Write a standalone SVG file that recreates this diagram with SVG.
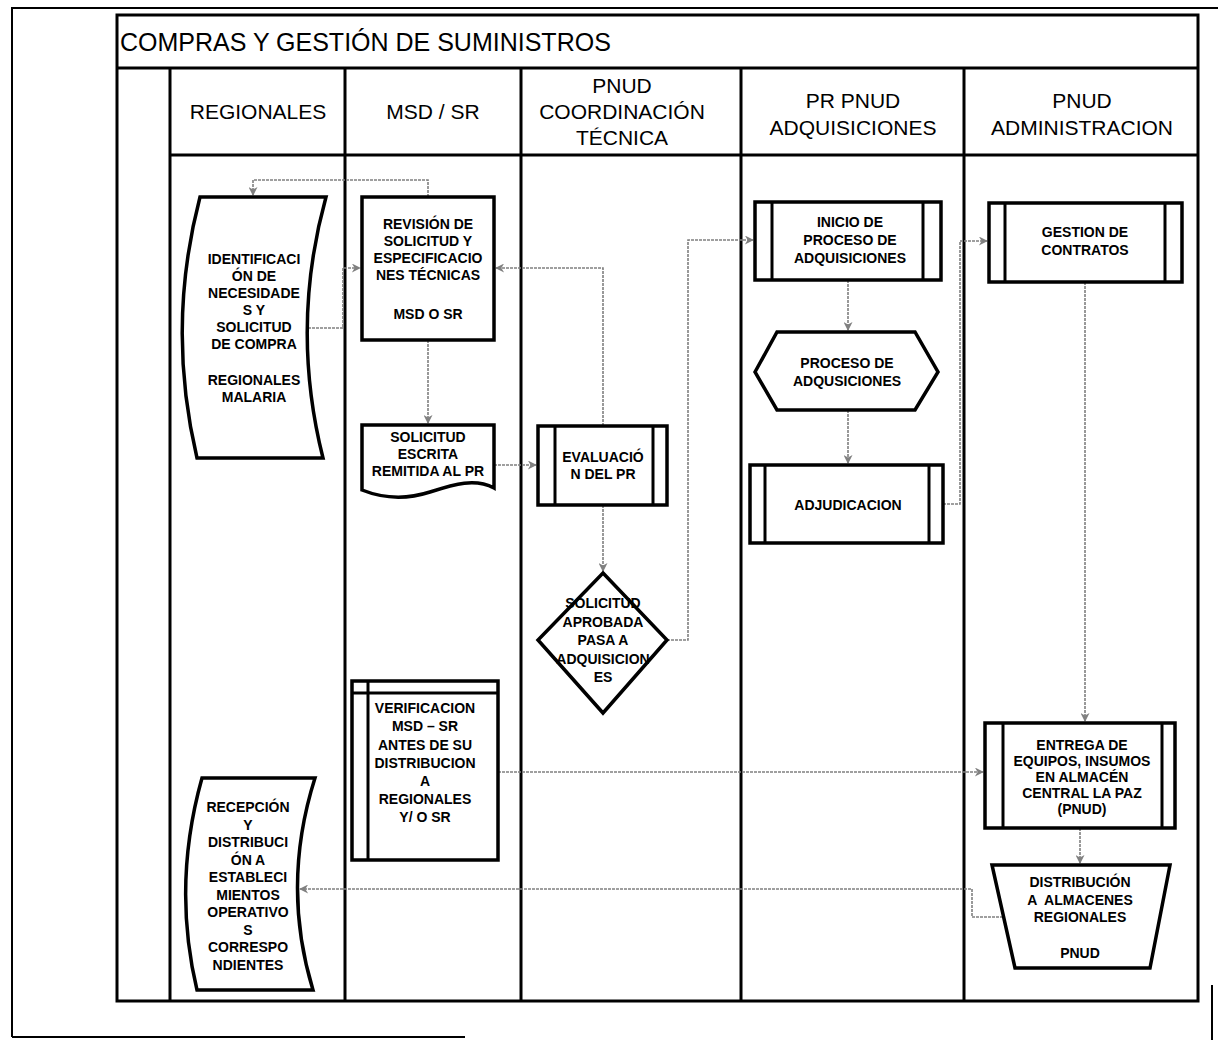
<svg xmlns="http://www.w3.org/2000/svg" width="1218" height="1040" viewBox="0 0 1218 1040">
<style>
.frame{fill:none;stroke:#000;stroke-width:3}
.thin{fill:none;stroke:#000;stroke-width:2}
.node{fill:#fff;stroke:#000;stroke-width:3.5;stroke-linejoin:miter}
.inner{stroke:#000;stroke-width:3;fill:none}
.t{font-family:"Liberation Sans",Arial,sans-serif;font-weight:bold;font-size:14px;text-anchor:middle;fill:#000}
.h{font-family:"Liberation Sans",Arial,sans-serif;font-size:21px;text-anchor:middle;fill:#000}
.title{font-family:"Liberation Sans",Arial,sans-serif;font-size:25px;fill:#000}
.c{fill:none;stroke:#808080;stroke-width:1.6;stroke-dasharray:3 1}
</style>
<defs>
<marker id="arr" viewBox="0 0 10 10" refX="9" refY="5" markerWidth="10" markerHeight="9" markerUnits="userSpaceOnUse" orient="auto">
<path d="M0,0 L10,5 L0,10 L3,5 Z" fill="#808080"/>
</marker>
</defs>
<rect width="1218" height="1040" fill="#fff"/>
<g id="outer-border">
<path class="thin" d="M12,1037 V8 H1218"/>
<path class="thin" d="M12,1037 H465"/>
<path class="thin" d="M1212,985 V1040"/>
</g>
<g id="lanes">
<rect class="frame" x="117" y="15" width="1081" height="986"/>
<line class="frame" x1="117" y1="68" x2="1198" y2="68"/>
<line class="frame" x1="170" y1="155" x2="1198" y2="155"/>
<line class="frame" x1="170" y1="68" x2="170" y2="1001"/>
<line class="frame" x1="345" y1="68" x2="345" y2="1001"/>
<line class="frame" x1="521" y1="68" x2="521" y2="1001"/>
<line class="frame" x1="741" y1="68" x2="741" y2="1001"/>
<line class="frame" x1="964" y1="68" x2="964" y2="1001"/>
<text class="title" x="120" y="51">COMPRAS Y GESTIÓN DE SUMINISTROS</text>
<text class="h" x="258" y="119">REGIONALES</text>
<text class="h" x="433" y="119">MSD / SR</text>
<text class="h" x="622" y="93">PNUD</text>
<text class="h" x="622" y="119">COORDINACIÓN</text>
<text class="h" x="622" y="145">TÉCNICA</text>
<text class="h" x="853" y="108">PR PNUD</text>
<text class="h" x="853" y="135">ADQUISICIONES</text>
<text class="h" x="1082" y="108">PNUD</text>
<text class="h" x="1082" y="135">ADMINISTRACION</text>
</g>
<g id="connectors">
<path class="c" d="M308,328 H343 V268 H360" marker-end="url(#arr)"/>
<path class="c" d="M428,197 V180 H253 V195" marker-end="url(#arr)"/>
<path class="c" d="M428,340 V423" marker-end="url(#arr)"/>
<path class="c" d="M494,465 H536" marker-end="url(#arr)"/>
<path class="c" d="M603,505 V571" marker-end="url(#arr)"/>
<path class="c" d="M603,426 V268 H496" marker-end="url(#arr)"/>
<path class="c" d="M667,640 H688 V240 H753" marker-end="url(#arr)"/>
<path class="c" d="M848,280 V330" marker-end="url(#arr)"/>
<path class="c" d="M848,410 V463" marker-end="url(#arr)"/>
<path class="c" d="M943,504 H960 V241 H987" marker-end="url(#arr)"/>
<path class="c" d="M498,772 H983" marker-end="url(#arr)"/>
<path class="c" d="M1085,282 V721" marker-end="url(#arr)"/>
<path class="c" d="M1080,828 V863" marker-end="url(#arr)"/>
<path class="c" d="M1003,917 H972 V889 H300" marker-end="url(#arr)"/>
</g>
<g id="n-identificacion">
<path class="node" d="M200,197 L326,197 Q290,327 323,458 L197,458 Q166,327 200,197 Z"/>
<text class="t" x="254" y="264">IDENTIFICACI</text>
<text class="t" x="254" y="281">ÓN DE</text>
<text class="t" x="254" y="298">NECESIDADE</text>
<text class="t" x="254" y="315">S Y</text>
<text class="t" x="254" y="332">SOLICITUD</text>
<text class="t" x="254" y="349">DE COMPRA</text>
<text class="t" x="254" y="385">REGIONALES</text>
<text class="t" x="254" y="402">MALARIA</text>
</g>
<g id="n-revision">
<rect class="node" x="362" y="197" width="132" height="143"/>
<text class="t" x="428" y="229">REVISIÓN DE</text>
<text class="t" x="428" y="246">SOLICITUD Y</text>
<text class="t" x="428" y="263">ESPECIFICACIO</text>
<text class="t" x="428" y="280">NES TÉCNICAS</text>
<text class="t" x="428" y="319">MSD O SR</text>
</g>
<g id="n-solicitud-escrita">
<path class="node" d="M362,425 L494,425 L494,488 C475,478 455,484 430,492 C405,500 382,498 362,490 Z"/>
<text class="t" x="428" y="442">SOLICITUD</text>
<text class="t" x="428" y="459">ESCRITA</text>
<text class="t" x="428" y="476">REMITIDA AL PR</text>
</g>
<g id="n-evaluacion">
<rect class="node" x="538" y="426" width="129" height="79"/>
<line class="inner" x1="555" y1="426" x2="555" y2="505"/>
<line class="inner" x1="653" y1="426" x2="653" y2="505"/>
<text class="t" x="603" y="462">EVALUACIÓ</text>
<text class="t" x="603" y="479">N DEL PR</text>
</g>
<g id="n-aprobada">
<path class="node" d="M603,573 L667,640 L603,713 L538,640 Z"/>
<text class="t" x="603" y="608">SOLICITUD</text>
<text class="t" x="603" y="626.5">APROBADA</text>
<text class="t" x="603" y="645">PASA A</text>
<text class="t" x="603" y="663.5">ADQUISICION</text>
<text class="t" x="603" y="682">ES</text>
</g>
<g id="n-verificacion">
<rect class="node" x="352" y="681" width="146" height="179"/>
<line class="inner" x1="352" y1="693" x2="498" y2="693"/>
<line class="inner" x1="368" y1="681" x2="368" y2="860"/>
<text class="t" x="425" y="713">VERIFICACION</text>
<text class="t" x="425" y="731">MSD – SR</text>
<text class="t" x="425" y="750">ANTES DE SU</text>
<text class="t" x="425" y="768">DISTRIBUCION</text>
<text class="t" x="425" y="786">A</text>
<text class="t" x="425" y="804">REGIONALES</text>
<text class="t" x="425" y="822">Y/ O SR</text>
</g>
<g id="n-inicio">
<rect class="node" x="755" y="202" width="186" height="78"/>
<line class="inner" x1="772" y1="202" x2="772" y2="280"/>
<line class="inner" x1="923" y1="202" x2="923" y2="280"/>
<text class="t" x="850" y="227">INICIO DE</text>
<text class="t" x="850" y="245">PROCESO DE</text>
<text class="t" x="850" y="263">ADQUISICIONES</text>
</g>
<g id="n-proceso">
<path class="node" d="M755,372 L777,332 L915,332 L938,372 L915,410 L777,410 Z"/>
<text class="t" x="847" y="368">PROCESO DE</text>
<text class="t" x="847" y="386">ADQUSICIONES</text>
</g>
<g id="n-adjudicacion">
<rect class="node" x="750" y="465" width="193" height="78"/>
<line class="inner" x1="765" y1="465" x2="765" y2="543"/>
<line class="inner" x1="929" y1="465" x2="929" y2="543"/>
<text class="t" x="848" y="510">ADJUDICACION</text>
</g>
<g id="n-gestion">
<rect class="node" x="989" y="203" width="193" height="79"/>
<line class="inner" x1="1005" y1="203" x2="1005" y2="282"/>
<line class="inner" x1="1165" y1="203" x2="1165" y2="282"/>
<text class="t" x="1085" y="237">GESTION DE</text>
<text class="t" x="1085" y="255">CONTRATOS</text>
</g>
<g id="n-entrega">
<rect class="node" x="985" y="723" width="190" height="105"/>
<line class="inner" x1="1003" y1="723" x2="1003" y2="828"/>
<line class="inner" x1="1162" y1="723" x2="1162" y2="828"/>
<text class="t" x="1082" y="750">ENTREGA DE</text>
<text class="t" x="1082" y="766">EQUIPOS, INSUMOS</text>
<text class="t" x="1082" y="782">EN ALMACÉN</text>
<text class="t" x="1082" y="798">CENTRAL LA PAZ</text>
<text class="t" x="1082" y="814">(PNUD)</text>
</g>
<g id="n-distribucion">
<path class="node" d="M992,865 L1170,865 L1150,968 L1015,968 Z"/>
<text class="t" x="1080" y="887">DISTRIBUCIÓN</text>
<text class="t" x="1080" y="905" xml:space="preserve">A  ALMACENES</text>
<text class="t" x="1080" y="922">REGIONALES</text>
<text class="t" x="1080" y="958">PNUD</text>
</g>
<g id="n-recepcion">
<path class="node" d="M202,778 L315,778 Q281,885 313,990 L197,990 Q172,885 202,778 Z"/>
<text class="t" x="248" y="812">RECEPCIÓN</text>
<text class="t" x="248" y="829.5">Y</text>
<text class="t" x="248" y="847">DISTRIBUCI</text>
<text class="t" x="248" y="864.5">ÓN A</text>
<text class="t" x="248" y="882">ESTABLECI</text>
<text class="t" x="248" y="899.5">MIENTOS</text>
<text class="t" x="248" y="917">OPERATIVO</text>
<text class="t" x="248" y="934.5">S</text>
<text class="t" x="248" y="952">CORRESPO</text>
<text class="t" x="248" y="969.5">NDIENTES</text>
</g>
</svg>
